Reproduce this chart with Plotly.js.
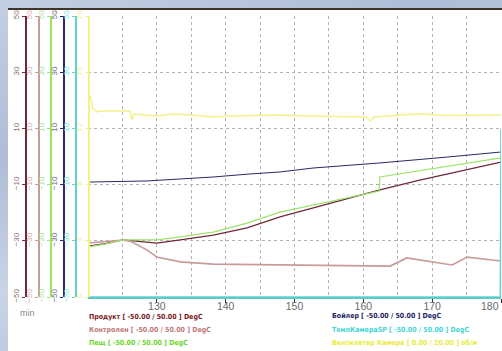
<!DOCTYPE html>
<html>
<head>
<meta charset="utf-8">
<script src="https://cdn.plot.ly/plotly-3.0.1.min.js"></script>
<style>
  html, body { margin: 0; padding: 0; width: 502px; height: 351px; overflow: hidden;
    background: linear-gradient(160deg, #c3cfe2 0%, #aebdd6 30%, #c8d3e5 55%, #b4c3da 80%, #c6d1e3 100%); }
  #chart { position: absolute; left: 8px; top: 8px; width: 494px; height: 341px;
    border-top: 2px solid #3b3428; background: #fff; }
</style>
</head>
<body>
<div id="chart"></div>
<script>
// ---- data (time in min) ----
const prodT = [120, 122.5, 125.1, 127.6, 130.0, 133.4, 138.2, 143.1, 147.9, 162.4, 168.2, 180];
const prodV = [-31.9, -31.0, -29.7, -30.3, -30.8, -29.7, -28.0, -25.4, -21.5, -11.9, -8.4, -2.0];

const ctrlT = [120, 122.5, 125.1, 126.2, 127.3, 128.6, 130.0, 133.4, 138.2, 147.9, 163.9, 166.3, 169.7, 172.9, 175.1, 180];
const ctrlV = [-30.8, -30.3, -29.7, -30.2, -31.5, -33.3, -35.8, -37.5, -38.3, -38.6, -39.0, -36.1, -37.5, -38.6, -35.8, -37.2];

const furnT = [120, 122.5, 125.1, 130.0, 133.4, 138.2, 143.1, 147.9, 162.3, 162.4, 180];
const furnV = [-32.2, -31.2, -29.7, -29.7, -28.6, -26.9, -23.7, -19.8, -12.3, -7.3, -0.5];

const boilT = [120, 128.6, 133.4, 138.2, 143.1, 147.9, 152.7, 162.4, 172.2, 180];
const boilV = [-9.1, -8.7, -8.0, -7.3, -6.3, -5.5, -4.1, -2.3, -0.2, 1.6];

const spT = [120, 179.9, 180];
const spV = [-50, -50, 10];

const fanT = [120, 120.4, 120.7, 121.3, 121.8, 126.1, 126.4, 126.7, 130.0, 132.4, 134.9, 138.2, 140.7, 147.9, 152.0, 160.4, 161.0, 161.5, 168.0, 172.0, 180];
const fanV = [14.4, 14.2, 13.45, 13.17, 13.24, 13.24, 12.6, 13.02, 12.88, 13.02, 12.95, 12.81, 12.88, 12.95, 12.88, 12.81, 12.53, 12.81, 13.05, 12.92, 12.95];

const xTicks = [130, 140, 150, 160, 170, 180];
const xTickText = ['130', '140', '150', '160', '170', ''];
const lastXLabel = '180';
const tempTicks = [-50, -30, -10, 10, 30, 50];
const fanTicks = [0, 4, 8, 12, 16, 20];

const legendTexts = [
  'Продукт [ -50.00 / 50.00 ] DegC',
  'Контролен [ -50.00 / 50.00 ] DegC',
  'Пещ [ -50.00 / 50.00 ] DegC',
  'Бойлер [ -50.00 / 50.00 ] DegC',
  'ТемпКамераSP [ -50.00 / 50.00 ] DegC',
  'Вентилатор Камера [ 0.00 / 20.00 ] об/м'
];

// ---- styles ----
const C = {
  prod: '#6e2836', ctrl: '#c99a9a', furn: '#9be36a', boil: '#262a66', sp: '#5fd3d3', fan: '#f2f28c'
};
const LBL = {
  prod: '#8f7070', ctrl: '#d9a8a8', furn: '#a9e08c', boil: '#6a6a7a', sp: '#86dede', fan: '#eeee9c'
};
const LEG = {
  prod: '#7a1622', ctrl: '#c07878', furn: '#6ad62a', boil: '#1c1c5c', sp: '#3fd6d6', fan: '#eaea3a'
};
const TICKFONT = { size: 10.5, color: '#6a6a6a', family: 'Liberation Sans, Arial, sans-serif' };

function yAx(col, lcol, pos, range, vals, extra) {
  return Object.assign({
    anchor: 'free', position: pos, range: range, tickvals: vals,
    showline: true, linecolor: col, linewidth: 1.5,
    ticks: 'outside', ticklen: 3, tickcolor: col, tickwidth: 1,
    ticklabeloverflow: 'allow',
    tickangle: -90, tickfont: { size: 8, color: lcol, family: 'Liberation Sans, Arial, sans-serif' },
    showgrid: false, zeroline: false, fixedrange: true
  }, extra || {});
}

const traces = [
  { x: fanT, y: fanV, yaxis: 'y6', mode: 'lines', line: { color: C.fan, width: 1.5 } },
  { x: spT, y: spV, yaxis: 'y5', mode: 'lines', line: { color: C.sp, width: 1.5 } },
  { x: ctrlT, y: ctrlV, yaxis: 'y2', mode: 'lines', line: { color: C.ctrl, width: 1.6 } },
  { x: furnT, y: furnV, yaxis: 'y3', mode: 'lines', line: { color: C.furn, width: 1.2 } },
  { x: prodT, y: prodV, yaxis: 'y', mode: 'lines', line: { color: C.prod, width: 1.2 } },
  { x: boilT, y: boilV, yaxis: 'y4', mode: 'lines', line: { color: C.boil, width: 1 } }
];

const W = 493; // plot width with l=0, r=1
const posOf = px => (px - 8) / W;

const annotations = [];
const legCols = [LEG.prod, LEG.ctrl, LEG.furn, LEG.boil, LEG.sp, LEG.fan];
const legX = [87, 87, 87, 330, 330, 330];
const legY = [317, 330, 343, 316, 330, 343];
legendTexts.forEach((t, i) => {
  annotations.push({
    text: '<b>' + t + '</b>', xref: 'paper', yref: 'paper',
    x: posOf(legX[i]), y: (287 - (legY[i] - 10)) / 281,
    xanchor: 'left', yanchor: 'middle', showarrow: false,
    font: { size: 7, color: legCols[i], family: 'Liberation Sans Narrow, DejaVu Sans Condensed, Liberation Sans, Arial' }
  });
});
annotations.push({
  text: 'min', xref: 'paper', yref: 'paper', x: posOf(18), y: (287 - 303) / 281,
  xanchor: 'left', yanchor: 'middle', showarrow: false,
  font: { size: 9, color: '#8a8a8a', family: 'Liberation Sans, Arial' }
});
annotations.push({
  text: lastXLabel, xref: 'paper', yref: 'paper', x: 1, y: (287 - 296) / 281,
  xanchor: 'right', yanchor: 'middle', showarrow: false, font: TICKFONT
});

const layout = {
  width: 494, height: 341,
  margin: { l: 0, r: 1, t: 6, b: 54 },
  paper_bgcolor: '#ffffff', plot_bgcolor: '#ffffff',
  showlegend: false,
  xaxis: {
    domain: [posOf(88), 1], range: [120, 180], tickvals: xTicks, ticktext: xTickText,
    showgrid: true, gridcolor: '#b3b3b3', griddash: 'dot', gridwidth: 1,
    minor: { dtick: 5, tick0: 120, showgrid: true, gridcolor: '#b3b3b3', griddash: 'dot', gridwidth: 1, ticks: '' },
    ticks: 'outside', ticklen: 4, tickcolor: '#333', tickwidth: 1,
    ticklabelstandoff: -6, ticklabeloverflow: 'allow',
    showline: true, linecolor: '#5fc9c9', linewidth: 2,
    tickfont: TICKFONT,
    zeroline: false, fixedrange: true
  },
  yaxis: yAx(C.prod, LBL.prod, posOf(25), [-50, 50], tempTicks,
    { showgrid: true, gridcolor: '#b3b3b3', griddash: 'dot', gridwidth: 1 }),
  yaxis2: yAx(C.ctrl, LBL.ctrl, posOf(38), [-50, 50], tempTicks, { overlaying: 'y' }),
  yaxis3: yAx(C.furn, LBL.furn, posOf(50), [-50, 50], tempTicks, { overlaying: 'y' }),
  yaxis4: yAx(C.boil, LBL.boil, posOf(63), [-50, 50], tempTicks, { overlaying: 'y' }),
  yaxis5: yAx(C.sp, LBL.sp, posOf(75), [-50, 50], tempTicks, { overlaying: 'y' }),
  yaxis6: yAx(C.fan, LBL.fan, posOf(88), [0, 20], fanTicks, { overlaying: 'y' }),
  annotations: annotations
};

Plotly.newPlot('chart', traces, layout, { displayModeBar: false, staticPlot: true });
</script>
</body>
</html>
